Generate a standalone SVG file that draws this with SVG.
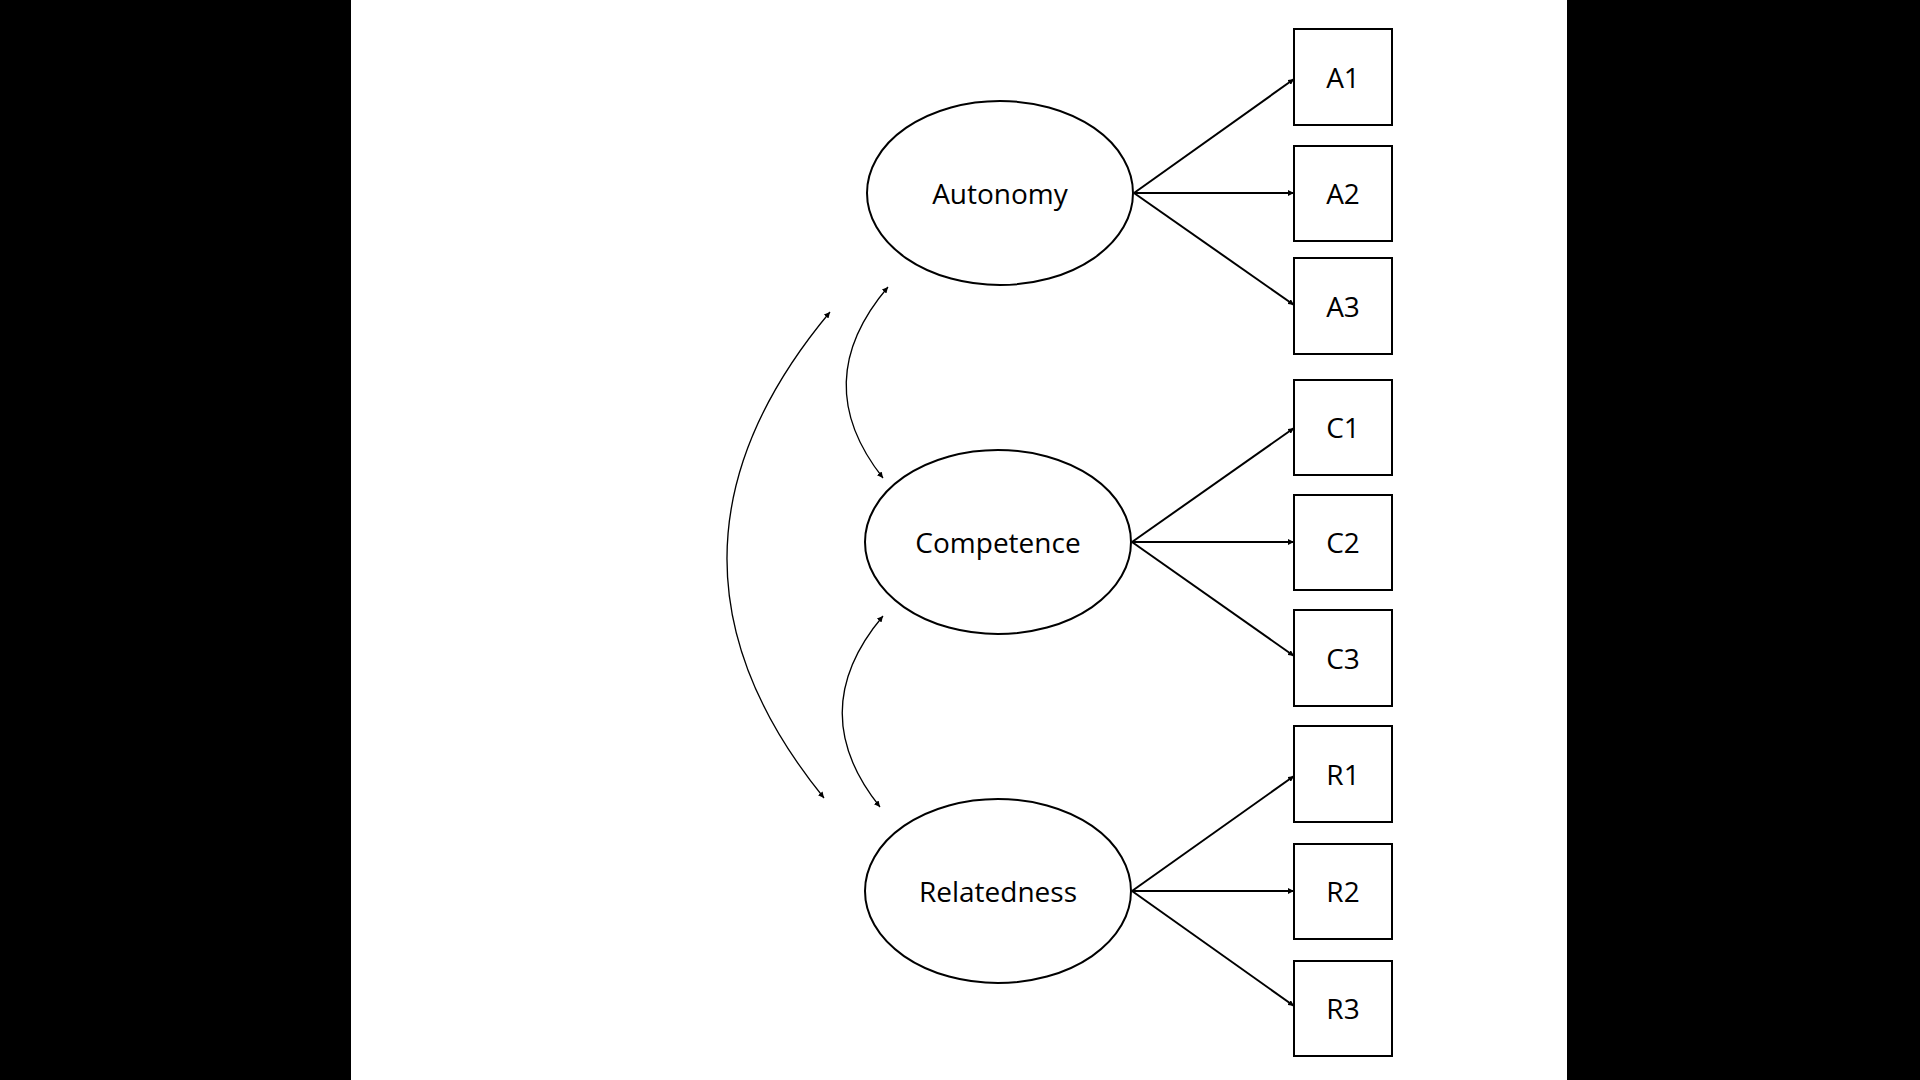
<svg xmlns="http://www.w3.org/2000/svg" width="1920" height="1080" viewBox="0 0 1920 1080">
<defs>
<marker id="ah" viewBox="0 0 10 10" refX="10" refY="5" markerWidth="6" markerHeight="6" orient="auto-start-reverse" markerUnits="userSpaceOnUse"><path d="M0,0 L10,5 L0,10 z" fill="#000"/></marker>
<style>
.n{fill:#fff;stroke:#000;stroke-width:2}
.t{font-family:"Open Sans","Noto Sans",sans-serif;font-size:28px;text-anchor:middle;dominant-baseline:central;fill:#000}
.c{fill:none;stroke:#000;stroke-width:2;marker-end:url(#ah)}
.cv{fill:none;stroke:#000;stroke-width:1.3;marker-end:url(#ah);marker-start:url(#ah)}
</style>
</defs>
<rect width="1920" height="1080" fill="#fff"/>
<rect x="0" y="0" width="351" height="1080" fill="#000"/>
<rect x="1567" y="0" width="353" height="1080" fill="#000"/>
<g id="connectors">
<line class="c" x1="1134" y1="193" x2="1294" y2="79"/>
<line class="c" x1="1134" y1="193" x2="1294" y2="193"/>
<line class="c" x1="1134" y1="193" x2="1294" y2="305"/>
<line class="c" x1="1132" y1="542" x2="1294" y2="428"/>
<line class="c" x1="1132" y1="542" x2="1294" y2="542"/>
<line class="c" x1="1132" y1="542" x2="1294" y2="656"/>
<line class="c" x1="1132" y1="891" x2="1294" y2="776"/>
<line class="c" x1="1132" y1="891" x2="1294" y2="891"/>
<line class="c" x1="1132" y1="891" x2="1294" y2="1006"/>
<path class="cv" d="M888,287 Q807,382 883,478"/>
<path class="cv" d="M883,616 Q803,711 880,807"/>
<path class="cv" d="M830,312 Q627,555 824,798"/>
</g>
<g id="autonomy"><ellipse class="n" cx="1000" cy="193" rx="133" ry="92"/><text class="t" x="1000" y="193">Autonomy</text></g>
<g id="competence"><ellipse class="n" cx="998" cy="542" rx="133" ry="92"/><text class="t" x="998" y="542">Competence</text></g>
<g id="relatedness"><ellipse class="n" cx="998" cy="891" rx="133" ry="92"/><text class="t" x="998" y="891">Relatedness</text></g>
<g id="A1"><rect class="n" x="1294" y="29" width="98" height="96"/><text class="t" x="1343" y="77">A1</text></g>
<g id="A2"><rect class="n" x="1294" y="146" width="98" height="95"/><text class="t" x="1343" y="193">A2</text></g>
<g id="A3"><rect class="n" x="1294" y="258" width="98" height="96"/><text class="t" x="1343" y="306">A3</text></g>
<g id="C1"><rect class="n" x="1294" y="380" width="98" height="95"/><text class="t" x="1343" y="427">C1</text></g>
<g id="C2"><rect class="n" x="1294" y="495" width="98" height="95"/><text class="t" x="1343" y="542">C2</text></g>
<g id="C3"><rect class="n" x="1294" y="610" width="98" height="96"/><text class="t" x="1343" y="658">C3</text></g>
<g id="R1"><rect class="n" x="1294" y="726" width="98" height="96"/><text class="t" x="1343" y="774">R1</text></g>
<g id="R2"><rect class="n" x="1294" y="844" width="98" height="95"/><text class="t" x="1343" y="891">R2</text></g>
<g id="R3"><rect class="n" x="1294" y="961" width="98" height="95"/><text class="t" x="1343" y="1008">R3</text></g>
</svg>
